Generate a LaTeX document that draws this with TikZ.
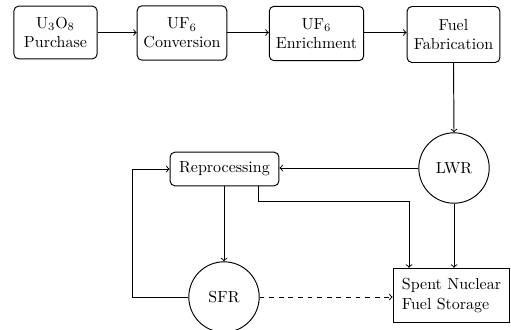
\documentclass[tikz,border=0pt]{standalone}
\usepackage{tikz}
\usetikzlibrary{calc}

\begin{document}
\begin{tikzpicture}[x=0.625pt, y=-0.625pt, line width=0.6pt,
    stepbox/.style={draw, rounded corners=3pt, align=center, inner sep=2pt},
    reactor/.style={draw, circle, minimum size=44pt, inner sep=0pt},
    >=to]
    \useasboundingbox (0,0) rectangle (511,329);

    % front end of the cycle
    \node[stepbox, minimum width=52pt, minimum height=33pt] (purchase) at (55.5,32.5)
        {U$_3$O$_8$\\Purchase};
    \node[stepbox, minimum width=56pt, minimum height=34pt] (conversion) at (182,33)
        {UF$_6$\\Conversion};
    \node[stepbox, minimum width=59pt, minimum height=34pt] (enrichment) at (316.5,33.5)
        {UF$_6$\\Enrichment};
    \node[stepbox, minimum width=58pt, minimum height=35pt] (fabrication) at (453.5,34.5)
        {Fuel\\Fabrication};

    % reactors and back end
    \node[reactor] (lwr) at (454,168) {LWR};
    \node[stepbox, minimum width=68pt, minimum height=21pt] (repro) at (224.5,169)
        {Reprocessing};
    \node[reactor] (sfr) at (224,297) {SFR};
    \node[draw, align=left, minimum width=73pt, minimum height=34pt] (storage) at (451.5,295.5)
        {Spent Nuclear\\Fuel Storage};

    \coordinate (loop) at (132,297);
    \coordinate (bendA) at (258,201);
    \coordinate (bendB) at (409,201);

    \draw[->] (purchase.east) -- (purchase.east -| conversion.west);
    \draw[->] (purchase.east -| conversion.east) -- (purchase.east -| enrichment.west);
    \draw[->] (purchase.east -| enrichment.east) -- (purchase.east -| fabrication.west);
    \draw[->] (fabrication.south) -- (lwr.north);
    \draw[->] (lwr.west) -- (lwr.west -| repro.east);
    \draw[->] (repro.south -| sfr) -- (sfr.north);
    \draw[->] (sfr.west) -- (loop) |- (repro.west);
    \draw[->] (repro.south -| bendA) -- (bendA) -- (bendB) -- (bendB |- storage.north);
    \draw[->] (lwr.south) -- (lwr.south |- storage.north);
    \draw[->, dashed] (sfr.east) -- (sfr.east -| storage.west);
\end{tikzpicture}
\end{document}
